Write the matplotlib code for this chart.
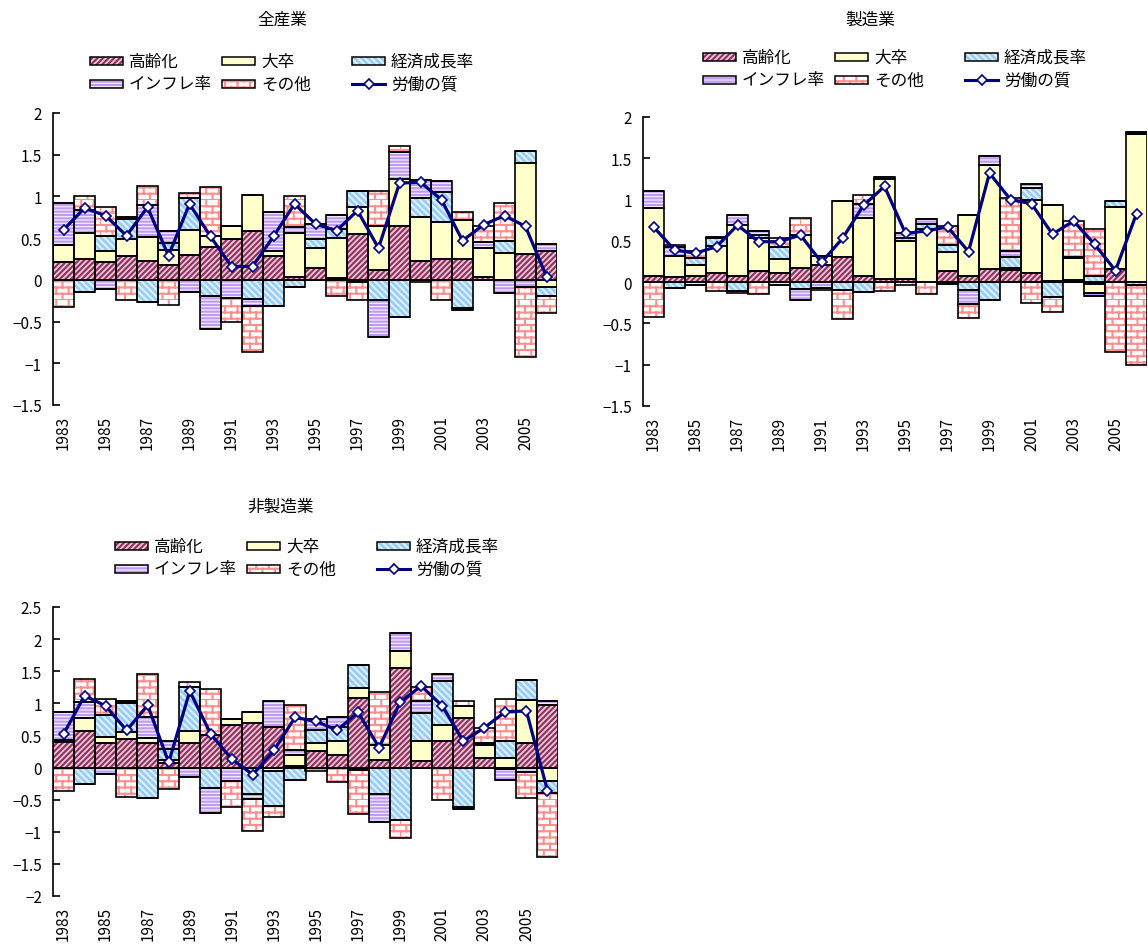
import warnings
import numpy as np
import matplotlib
matplotlib.use('Agg')
import matplotlib.pyplot as plt
import matplotlib.hatch as mhatch
from matplotlib.path import Path
from matplotlib.patches import Rectangle
from matplotlib.lines import Line2D
from matplotlib.ticker import FuncFormatter

warnings.filterwarnings('ignore')
plt.rcParams['font.family'] = ['Noto Sans CJK JP', 'DejaVu Sans']
plt.rcParams['hatch.linewidth'] = 1.5

# ---- data (percentage points, 1983-2006) ----
years = list(range(1983, 2007))
labels = ['高齢化', '大卒', '経済成長率', 'インフレ率', 'その他']
line_label = '労働の質'
titles = ['全産業', '製造業', '非製造業']

# 全産業
all_aging = [0.22, 0.245, 0.21, 0.285, 0.23, 0.18, 0.30, 0.39, 0.49, 0.59, 0.29, 0.04,
             0.14, 0.02, 0.55, 0.12, 0.64, 0.23, 0.245, 0.245, 0.03, 0.0, 0.31, 0.35]
all_college = [0.20, 0.315, 0.13, 0.20, 0.28, 0.18, 0.30, 0.14, 0.16, 0.43, 0.06, 0.52,
               0.245, 0.48, 0.32, 0.53, 0.57, 0.52, 0.445, 0.47, 0.355, 0.32, 1.09, -0.09]
all_growth = [0.0, -0.14, 0.19, 0.24, -0.265, 0.08, 0.38, -0.19, 0.0, -0.23, -0.31, -0.09,
              0.105, 0.11, 0.19, -0.24, -0.45, 0.23, 0.36, -0.335, 0.0, 0.14, 0.15, -0.10]
all_infl = [0.50, 0.28, -0.11, 0.03, 0.39, 0.14, -0.14, -0.40, -0.22, -0.08, 0.46, 0.07,
            0.18, 0.17, -0.03, -0.45, 0.32, 0.22, 0.13, -0.025, 0.065, -0.155, -0.08, 0.08]
all_other = [-0.33, 0.16, 0.34, -0.24, 0.22, -0.30, 0.06, 0.58, -0.28, -0.56, 0.0, 0.37,
             0.0, -0.19, -0.21, 0.41, 0.07, -0.03, -0.24, 0.095, 0.20, 0.46, -0.84, -0.21]
all_quality = [0.60, 0.86, 0.77, 0.53, 0.87, 0.29, 0.91, 0.52, 0.16, 0.16, 0.52, 0.91,
               0.67, 0.59, 0.83, 0.38, 1.16, 1.17, 0.96, 0.47, 0.66, 0.77, 0.64, 0.04]

# 製造業
mfg_aging = [0.075, 0.06, 0.07, 0.11, 0.075, 0.135, 0.11, 0.17, 0.21, 0.30, 0.075, 0.04,
             0.035, 0.0, 0.13, 0.07, 0.155, 0.15, 0.11, 0.01, 0.03, -0.02, 0.16, 0.0]
mfg_college = [0.825, 0.26, 0.14, 0.33, 0.615, 0.395, 0.17, 0.40, 0.11, 0.68, 0.705, 1.21,
               0.465, 0.64, 0.24, 0.74, 1.265, 0.02, 0.89, 0.92, 0.26, -0.11, 0.755, 1.79]
mfg_growth = [0.0, -0.065, 0.08, 0.09, -0.11, 0.04, 0.15, -0.08, 0.0, -0.10, -0.12, 0.0,
              0.04, 0.06, 0.08, -0.09, -0.22, 0.13, 0.14, -0.18, 0.0, 0.07, 0.065, -0.03]
mfg_infl = [0.20, 0.10, -0.04, 0.02, 0.12, 0.05, -0.04, -0.14, -0.07, 0.0, 0.17, 0.02,
            0.06, 0.06, -0.02, -0.18, 0.11, 0.08, 0.05, 0.0, 0.01, -0.04, 0.0, 0.03]
mfg_other = [-0.42, 0.03, 0.09, -0.11, -0.02, -0.14, 0.10, 0.21, -0.02, -0.35, 0.11, -0.11,
             -0.03, -0.14, 0.23, -0.17, 0.0, 0.64, -0.25, -0.18, 0.44, 0.57, -0.84, -0.97]
mfg_quality = [0.67, 0.39, 0.35, 0.43, 0.69, 0.49, 0.49, 0.57, 0.24, 0.53, 0.93, 1.16,
               0.59, 0.62, 0.67, 0.37, 1.32, 1.00, 0.95, 0.58, 0.74, 0.46, 0.14, 0.83]

# 非製造業
non_aging = [0.40, 0.575, 0.39, 0.45, 0.39, 0.07, 0.39, 0.50, 0.67, 0.695, 0.635, 0.02,
             0.26, 0.20, 1.08, 0.11, 1.545, 0.105, 0.41, 0.775, 0.145, -0.03, 0.39, 0.97]
non_college = [0.03, 0.20, 0.08, 0.105, 0.07, 0.04, 0.185, 0.0, 0.085, 0.17, -0.06, 0.17,
               0.13, 0.22, 0.155, 0.235, 0.265, 0.305, 0.245, 0.185, 0.20, 0.145, 0.655, -0.21]
non_growth = [0.0, -0.26, 0.35, 0.445, -0.48, 0.18, 0.685, -0.32, 0.0, -0.41, -0.54, -0.19,
              0.20, 0.21, 0.355, -0.41, -0.82, 0.445, 0.685, -0.61, 0.0, 0.265, 0.315, -0.18]
non_infl = [0.43, 0.25, -0.10, 0.04, 0.33, 0.13, -0.14, -0.39, -0.21, -0.08, 0.40, 0.09,
            0.16, 0.16, -0.04, -0.44, 0.29, 0.185, 0.11, -0.03, 0.035, -0.16, -0.07, 0.07]
non_other = [-0.36, 0.36, 0.25, -0.46, 0.66, -0.34, 0.075, 0.72, -0.41, -0.505, -0.17, 0.70,
             -0.05, -0.22, -0.69, 0.825, -0.27, 0.22, -0.51, 0.08, 0.24, 0.65, -0.41, -1.01]
non_quality = [0.52, 1.12, 0.96, 0.58, 0.97, 0.08, 1.19, 0.52, 0.13, -0.11, 0.27, 0.78,
               0.72, 0.58, 0.86, 0.31, 1.02, 1.27, 0.96, 0.41, 0.62, 0.87, 0.88, -0.36]


# brick hatch for "その他" (triggered by 'b' in the hatch string)
class BrickHatch(mhatch.HatchPatternBase):
    def __init__(self, hatch, density):
        self.rows = 16 if 'b' in hatch else 0
        self.cols = 8
        self.num_vertices = (self.rows + self.rows * self.cols) * 2

    def set_vertices_and_codes(self, vertices, codes):
        k = 0
        h = 1.0 / self.rows
        for i in range(self.rows):
            y = i * h
            vertices[k] = (0, y)
            vertices[k + 1] = (1, y)
            k += 2
            off = 0.5 * (i % 2) / self.cols
            for j in range(self.cols):
                x = j / self.cols + off
                vertices[k] = (x, y)
                vertices[k + 1] = (x, y + h)
                k += 2
        codes[0::2] = Path.MOVETO
        codes[1::2] = Path.LINETO


mhatch._hatch_types.append(BrickHatch)

# ---- styles: (face, hatch colour, hatch) ----
styles = [('#E9C6D8', '#8E2F5C', '//////'),
          ('#FFFFCC', '#FFFFCC', None),
          ('#99CCF5', '#DDF1FF', '\\\\\\\\\\'),
          ('#F4ECFF', '#BE9AF5', '-----'),
          ('#FFFFFF', '#FF8F8F', 'b')]
navy = '#000080'

W, H = 1148, 945
fig = plt.figure(figsize=(W / 100, H / 100), dpi=100)


def fx(x):
    return x / W


def fy(y):
    return 1 - y / H


def draw_panel(rect, comps, quality, ylim, title, title_xy, leg_xy):
    ax = fig.add_axes(rect)
    x = np.arange(len(years))
    comps = [np.array(c) for c in comps]
    pos_base = np.zeros(len(years))
    neg_base = np.zeros(len(years))
    for vals, (face, hc, hatch) in zip(comps, styles):
        pos = np.where(vals > 0, vals, 0)
        neg = np.where(vals < 0, vals, 0)
        for part, base in ((pos, pos_base), (neg, neg_base)):
            ax.bar(x, part, bottom=base, width=1.0, color=face, edgecolor=hc,
                   hatch=hatch, linewidth=0, zorder=2)
            ax.bar(x, part, bottom=base, width=1.0, fill=False, edgecolor='black',
                   linewidth=1.2, zorder=3)
        pos_base = pos_base + pos
        neg_base = neg_base + neg
    ax.axhline(0, color='black', linewidth=1.3, zorder=4)
    ax.plot(x, quality, color=navy, linewidth=2.3, marker='D', markersize=5.5,
            markerfacecolor='white', markeredgecolor=navy, markeredgewidth=1.2, zorder=5)

    ax.set_xlim(-0.5, len(years) - 0.5)
    ax.set_ylim(*ylim)
    ax.set_yticks(np.arange(ylim[0], ylim[1] + 0.01, 0.5))
    ax.yaxis.set_major_formatter(FuncFormatter(lambda v, p: ('%g' % v).replace('-', '\u2212')))
    ax.set_xticks(x[::2])
    ax.set_xticklabels([str(y) for y in years[::2]], rotation=90)
    for s in ('top', 'right', 'bottom'):
        ax.spines[s].set_visible(False)
    ax.spines['left'].set_linewidth(1.2)
    ax.tick_params(axis='y', direction='in', length=5, width=1.2, pad=8, labelsize=11)
    ax.tick_params(axis='x', length=0, pad=7, labelsize=11)
    ax.set_facecolor('none')

    fig.text(fx(title_xy[0]), fy(title_xy[1]), title, ha='center', va='center', fontsize=12)

    # legend, 2 rows x 3 columns
    col_off = [0, 132, 262]
    row_off = [0, 23]
    for i in range(6):
        r, c = divmod(i, 3)
        lx = leg_xy[0] + col_off[c]
        ly = leg_xy[1] + row_off[r]
        if i < 5:
            face, hc, hatch = styles[i]
            fig.add_artist(Rectangle((fx(lx), fy(ly + 4)), 33 / W, 8 / H,
                                     transform=fig.transFigure, facecolor=face,
                                     edgecolor=hc, hatch=hatch, linewidth=0))
            fig.add_artist(Rectangle((fx(lx), fy(ly + 4)), 33 / W, 8 / H,
                                     transform=fig.transFigure, fill=False,
                                     edgecolor='black', linewidth=1.1))
            txt = labels[i]
        else:
            fig.add_artist(Line2D([fx(lx), fx(lx + 33)], [fy(ly), fy(ly)],
                                  transform=fig.transFigure, color=navy, linewidth=2.2))
            fig.add_artist(Line2D([fx(lx + 16.5)], [fy(ly)], transform=fig.transFigure,
                                  marker='D', markersize=5, markerfacecolor='white',
                                  markeredgecolor=navy, markeredgewidth=1.2))
            txt = line_label
        fig.text(fx(lx + 39), fy(ly), txt, ha='left', va='center', fontsize=12)
    return ax


draw_panel([fx(53), fy(406), 504 / W, 292 / H],
           [all_aging, all_college, all_growth, all_infl, all_other], all_quality,
           (-1.5, 2), titles[0], (282, 20), (90, 62))
draw_panel([fx(643), fy(407), 504 / W, 289 / H],
           [mfg_aging, mfg_college, mfg_growth, mfg_infl, mfg_other], mfg_quality,
           (-1.5, 2), titles[1], (870, 20), (703, 58))
draw_panel([fx(53), fy(897), 505 / W, 289 / H],
           [non_aging, non_college, non_growth, non_infl, non_other], non_quality,
           (-2, 2.5), titles[2], (281, 507), (115, 547))

fig.savefig('out.png', dpi=100)
